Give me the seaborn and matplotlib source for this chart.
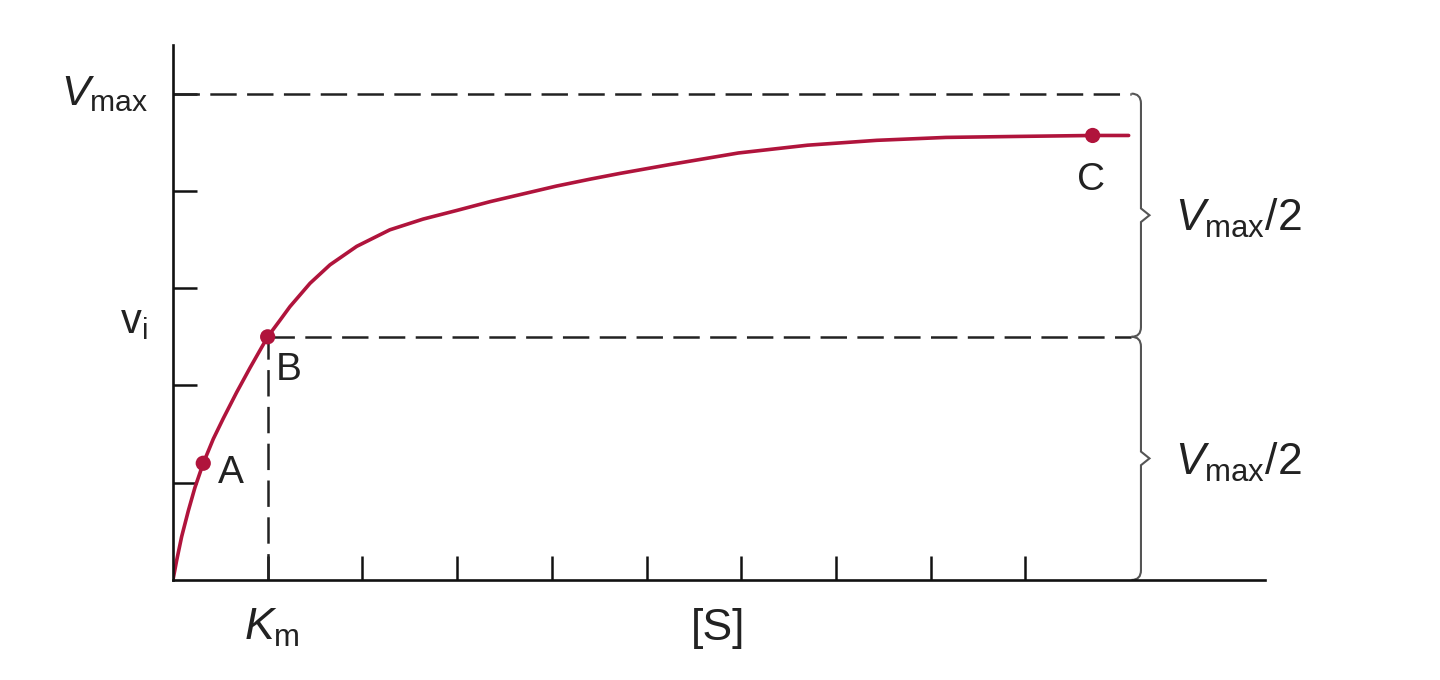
import numpy as np
import matplotlib
matplotlib.use("Agg")
import matplotlib.pyplot as plt
from matplotlib.path import Path
from matplotlib.patches import PathPatch
import seaborn as sns

# Curve ([S] in units of Km, v in tick units; Vmax = 5)
s_vals = [0, 0.039, 0.092, 0.162, 0.232, 0.32, 0.426, 0.531, 0.673, 0.813,
          1.0, 1.13, 1.235, 1.447, 1.658, 1.94, 2.29, 2.64, 3.0, 3.35, 3.70,
          4.05, 4.40, 4.72, 5.24, 5.97, 6.70, 7.43, 8.16, 8.90, 9.71, 10.09]
v_vals = [0, 0.20, 0.446, 0.71, 0.95, 1.20, 1.45, 1.66, 1.93, 2.18,
          2.5, 2.67, 2.81, 3.05, 3.24, 3.43, 3.60, 3.71, 3.80, 3.89, 3.97,
          4.05, 4.12, 4.18, 4.27, 4.39, 4.47, 4.52, 4.55, 4.56, 4.57, 4.57]

point_labels = ["A", "B", "C"]
point_s = [0.32, 1.0, 9.71]
point_v = [1.20, 2.5, 4.57]

vmax = 5.0
km = 1.0
x_ticks = [1, 2, 3, 4, 5, 6, 7, 8, 9]
y_ticks = [1, 2, 3, 4, 5]

red = "#B0143C"
ink = "#222222"
brace_col = "#555555"

sns.set_theme(style="white")
plt.rcParams["font.family"] = ["Liberation Sans", "DejaVu Sans"]
plt.rcParams["mathtext.fontset"] = "custom"
plt.rcParams["mathtext.rm"] = "Liberation Sans"
plt.rcParams["mathtext.it"] = "Liberation Sans:italic"
plt.rcParams["lines.scale_dashes"] = False

fig = plt.figure(figsize=(14.4, 6.8), dpi=100)
ax = fig.add_axes([0.1201, 0.1471, 0.7584, 0.7867])

# guide lines
dash = (19, 7.5)
x_end = 10.12
ax.plot([0, x_end], [vmax, vmax], color=ink, lw=1.8, dashes=dash)
ax.plot([km, x_end], [vmax / 2, vmax / 2], color=ink, lw=1.8, dashes=dash)
ax.plot([km, km], [0, vmax / 2], color=ink, lw=1.8, dashes=dash)

# curve and points
sns.lineplot(x=s_vals, y=v_vals, sort=False, color=red, lw=2.6, ax=ax,
             solid_joinstyle="round")
sns.scatterplot(x=point_s, y=point_v, color=red, s=120, edgecolor="none",
                zorder=5, ax=ax)

label_off = [(0.29, -0.20), (0.225, -0.44), (-0.02, -0.56)]
for lab, xs, yv, (dx, dy) in zip(point_labels, point_s, point_v, label_off):
    ax.text(xs + dx, yv + dy, lab, fontsize=28, color=ink,
            ha="center", va="baseline")


# curly braces on the right
def brace(ax, y_top, y_bot, xb=10.22, r=0.1, tip=0.09, half=0.07):
    ym = (y_top + y_bot) / 2
    verts = [(xb - r, y_top), (xb, y_top), (xb, y_top - r),
             (xb, ym + half), (xb + tip, ym), (xb, ym - half),
             (xb, y_bot + r), (xb, y_bot), (xb - r, y_bot)]
    codes = [Path.MOVETO, Path.CURVE3, Path.CURVE3,
             Path.LINETO, Path.LINETO, Path.LINETO,
             Path.LINETO, Path.CURVE3, Path.CURVE3]
    ax.add_patch(PathPatch(Path(verts, codes), facecolor="none",
                           edgecolor=brace_col, lw=1.5, clip_on=False))
    ax.text(xb + 0.36, ym - 0.165, r"$V_{\mathrm{max}}\mathrm{/2}$",
            fontsize=32, color=ink, ha="left", va="baseline")


brace(ax, vmax, vmax / 2)
brace(ax, vmax / 2, 0)

# axes
ax.set_xlim(0, 11.53)
ax.set_ylim(0, 5.5)
sns.despine(ax=ax)
for sp in ["left", "bottom"]:
    ax.spines[sp].set_color("#111111")
    ax.spines[sp].set_linewidth(1.9)
ax.set_xticks(x_ticks)
ax.set_yticks(y_ticks)
ax.set_xticklabels([])
ax.set_yticklabels([])
ax.tick_params(direction="in", length=17, width=1.8, color="#111111",
               bottom=True, left=True)

ax.text(-0.264, 4.887, r"$V_{\mathrm{max}}$", fontsize=31, color=ink,
        ha="right", va="baseline")
ax.text(-0.41, 2.54, r"$\mathrm{v}_{\mathrm{i}}$", fontsize=30, color=ink,
        ha="center", va="baseline")
ax.text(km + 0.04, -0.617, r"$K_{\mathrm{m}}$", fontsize=32, color=ink,
        ha="center", va="baseline")
ax.text(5.755, -0.617, "[S]", fontsize=32, color=ink,
        ha="center", va="baseline")

fig.savefig("out.png", dpi=100, facecolor="white")
